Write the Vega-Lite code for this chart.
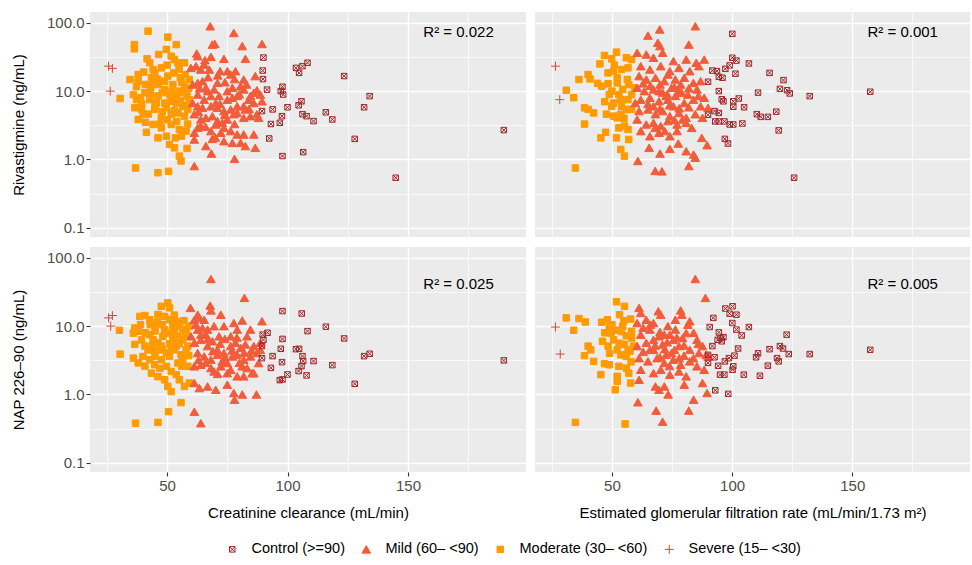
{
"$schema":"https://vega.github.io/schema/vega-lite/v6.json",
"padding":{"left":11,"top":12,"right":0,"bottom":0},
"datasets":{
"grp":[{"g":"C","grp":"Control (>=90)"},{"g":"Mi","grp":"Mild (60– <90)"},{"g":"Mo","grp":"Moderate (30– <60)"},{"g":"S","grp":"Severe (15– <30)"}],
"r2":[{"p":"a","x":171,"y":73,"t":"R² = 0.022"},{"p":"b","x":171,"y":73,"t":"R² = 0.001"},{"p":"c","x":171,"y":40.8,"t":"R² = 0.025"},{"p":"d","x":171,"y":40.8,"t":"R² = 0.005"}],
"pts":[
{"p":"a","g":"Mo","x":42.1,"y":75.5},{"p":"a","g":"Mo","x":36.4,"y":48},{"p":"a","g":"Mo","x":36.4,"y":41.6},{"p":"a","g":"Mo","x":50.3,"y":61.7},{"p":"a","g":"Mo","x":53.8,"y":48},{"p":"a","g":"Mo","x":41.7,"y":29.7},{"p":"a","g":"Mo","x":46.5,"y":34.4},{"p":"a","g":"Mo","x":49.7,"y":40.8},{"p":"a","g":"Mo","x":51.7,"y":32.5},{"p":"a","g":"Mo","x":54.5,"y":26},{"p":"a","g":"Mo","x":57.2,"y":26},{"p":"a","g":"Mo","x":38,"y":17.5},{"p":"a","g":"Mo","x":40.3,"y":19},{"p":"a","g":"Mo","x":43.5,"y":15.7},{"p":"a","g":"Mo","x":44.2,"y":20.7},{"p":"a","g":"Mo","x":47.6,"y":21.9},{"p":"a","g":"Mo","x":50.3,"y":16.6},{"p":"a","g":"Mo","x":52.8,"y":18.5},{"p":"a","g":"Mo","x":55.5,"y":15.7},{"p":"a","g":"Mo","x":38,"y":14},{"p":"a","g":"Mo","x":37.3,"y":11.6},{"p":"a","g":"Mo","x":36,"y":8.9},{"p":"a","g":"Mo","x":30.5,"y":7.8},{"p":"a","g":"Mo","x":40.8,"y":9.5},{"p":"a","g":"Mo","x":42.8,"y":7.5},{"p":"a","g":"Mo","x":46.2,"y":8.5},{"p":"a","g":"Mo","x":49,"y":10.6},{"p":"a","g":"Mo","x":51,"y":8.9},{"p":"a","g":"Mo","x":53.1,"y":8},{"p":"a","g":"Mo","x":55.1,"y":10},{"p":"a","g":"Mo","x":57.2,"y":11.8},{"p":"a","g":"Mo","x":58.3,"y":8.5},{"p":"a","g":"Mo","x":36.6,"y":5.7},{"p":"a","g":"Mo","x":39.4,"y":5.4},{"p":"a","g":"Mo","x":42.1,"y":4.6},{"p":"a","g":"Mo","x":44.9,"y":5.4},{"p":"a","g":"Mo","x":47.6,"y":4.07},{"p":"a","g":"Mo","x":49.7,"y":5.7},{"p":"a","g":"Mo","x":51.7,"y":4.6},{"p":"a","g":"Mo","x":54.5,"y":4.8},{"p":"a","g":"Mo","x":56.5,"y":6},{"p":"a","g":"Mo","x":58.6,"y":5.4},{"p":"a","g":"Mo","x":44.2,"y":3.25},{"p":"a","g":"Mo","x":47.6,"y":2.9},{"p":"a","g":"Mo","x":51.7,"y":3.25},{"p":"a","g":"Mo","x":55.1,"y":2.75},{"p":"a","g":"Mo","x":57.9,"y":2.6},{"p":"a","g":"Mo","x":41.4,"y":2.5},{"p":"a","g":"Mo","x":46.2,"y":2.07},{"p":"a","g":"Mo","x":49.7,"y":2.19},{"p":"a","g":"Mo","x":53.5,"y":2.07},{"p":"a","g":"Mo","x":51,"y":1.66},{"p":"a","g":"Mo","x":53.1,"y":1.48},{"p":"a","g":"Mo","x":55.1,"y":1.12},{"p":"a","g":"Mo","x":55.8,"y":0.95},{"p":"a","g":"Mo","x":58.3,"y":1.45},{"p":"a","g":"Mo","x":36.9,"y":0.75},{"p":"a","g":"Mo","x":46.2,"y":0.64},{"p":"a","g":"Mo","x":50.6,"y":0.67},{"p":"a","g":"Mo","x":46.2,"y":12.5},{"p":"a","g":"Mo","x":49,"y":14},{"p":"a","g":"Mo","x":52.4,"y":12.5},{"p":"a","g":"Mo","x":43.2,"y":11.2},{"p":"a","g":"Mo","x":53.8,"y":6.7},{"p":"a","g":"Mo","x":51.7,"y":7.1},{"p":"a","g":"Mo","x":49,"y":6.7},{"p":"a","g":"Mo","x":57.2,"y":4.3},{"p":"a","g":"Mo","x":45.5,"y":6.7},{"p":"a","g":"Mo","x":37.3,"y":7.5},{"p":"a","g":"Mo","x":59.2,"y":14.8},{"p":"a","g":"Mo","x":59.2,"y":7.5},{"p":"a","g":"Mo","x":42.8,"y":26},{"p":"a","g":"Mo","x":44.9,"y":18.5},{"p":"a","g":"Mo","x":34.6,"y":14.8},{"p":"a","g":"Mo","x":38,"y":3.85},{"p":"a","g":"Mo","x":40.1,"y":4.6},{"p":"a","g":"Mo","x":48,"y":9.5},{"p":"a","g":"Mo","x":44,"y":13},{"p":"a","g":"Mo","x":56,"y":13.5},{"p":"a","g":"Mo","x":54,"y":9},{"p":"a","g":"Mo","x":50,"y":3.8},{"p":"a","g":"Mo","x":47,"y":3.3},{"p":"a","g":"Mo","x":53,"y":5.2},{"p":"a","g":"Mo","x":39,"y":8},{"p":"a","g":"Mo","x":41,"y":12.5},{"p":"a","g":"Mo","x":56,"y":2.2},{"p":"a","g":"Mo","x":58.5,"y":3.3},{"p":"a","g":"Mo","x":57.5,"y":17.5},{"p":"a","g":"Mo","x":55,"y":21},{"p":"a","g":"Mo","x":45,"y":6},{"p":"a","g":"Mo","x":48,"y":5},{"p":"a","g":"Mo","x":52,"y":9.8},{"p":"a","g":"Mo","x":55.5,"y":7.2},{"p":"a","g":"Mo","x":58,"y":6.2},{"p":"a","g":"Mo","x":43,"y":9},{"p":"a","g":"Mo","x":39.5,"y":6.5},{"p":"a","g":"Mo","x":46,"y":15},{"p":"a","g":"Mo","x":50,"y":24},{"p":"a","g":"Mo","x":53,"y":29},{"p":"a","g":"Mo","x":57,"y":9.5},{"p":"a","g":"Mo","x":41,"y":3.5},{"p":"a","g":"Mo","x":54,"y":3.6},{"p":"a","g":"Mo","x":59,"y":11},
{"p":"a","g":"Mi","x":67.9,"y":89},{"p":"a","g":"Mi","x":77.7,"y":71},{"p":"a","g":"Mi","x":68.8,"y":48},{"p":"a","g":"Mi","x":69.8,"y":49},{"p":"a","g":"Mi","x":89.4,"y":49},{"p":"a","g":"Mi","x":81.2,"y":45.6},{"p":"a","g":"Mi","x":82.5,"y":29.7},{"p":"a","g":"Mi","x":62.3,"y":35.6},{"p":"a","g":"Mi","x":62.7,"y":32.5},{"p":"a","g":"Mi","x":65.7,"y":28.4},{"p":"a","g":"Mi","x":68.2,"y":31.8},{"p":"a","g":"Mi","x":73.6,"y":29.7},{"p":"a","g":"Mi","x":59.9,"y":21.9},{"p":"a","g":"Mi","x":62,"y":23.2},{"p":"a","g":"Mi","x":64,"y":20.7},{"p":"a","g":"Mi","x":65.4,"y":24.5},{"p":"a","g":"Mi","x":67.5,"y":20.7},{"p":"a","g":"Mi","x":72,"y":19.6},{"p":"a","g":"Mi","x":75,"y":19.6},{"p":"a","g":"Mi","x":78.4,"y":19.6},{"p":"a","g":"Mi","x":76.4,"y":17.5},{"p":"a","g":"Mi","x":86.6,"y":16.6},{"p":"a","g":"Mi","x":81.8,"y":14.8},{"p":"a","g":"Mi","x":60.6,"y":12.5},{"p":"a","g":"Mi","x":62.7,"y":13.2},{"p":"a","g":"Mi","x":64.7,"y":14},{"p":"a","g":"Mi","x":66.1,"y":11.2},{"p":"a","g":"Mi","x":66.8,"y":10},{"p":"a","g":"Mi","x":69.5,"y":10.6},{"p":"a","g":"Mi","x":71.6,"y":8.5},{"p":"a","g":"Mi","x":75,"y":10},{"p":"a","g":"Mi","x":77.1,"y":11.2},{"p":"a","g":"Mi","x":79.1,"y":8.5},{"p":"a","g":"Mi","x":81.8,"y":10.6},{"p":"a","g":"Mi","x":86,"y":9.5},{"p":"a","g":"Mi","x":87.3,"y":10.3},{"p":"a","g":"Mi","x":88.7,"y":8.9},{"p":"a","g":"Mi","x":62.7,"y":8.9},{"p":"a","g":"Mi","x":65.4,"y":7.5},{"p":"a","g":"Mi","x":68.2,"y":8.5},{"p":"a","g":"Mi","x":70.2,"y":6.7},{"p":"a","g":"Mi","x":60.6,"y":6.7},{"p":"a","g":"Mi","x":62.7,"y":6},{"p":"a","g":"Mi","x":64.7,"y":5.7},{"p":"a","g":"Mi","x":68.2,"y":6},{"p":"a","g":"Mi","x":70.9,"y":5.7},{"p":"a","g":"Mi","x":73.6,"y":5.1},{"p":"a","g":"Mi","x":76.4,"y":5.4},{"p":"a","g":"Mi","x":77.7,"y":4.6},{"p":"a","g":"Mi","x":79.1,"y":6},{"p":"a","g":"Mi","x":81.8,"y":6},{"p":"a","g":"Mi","x":83.9,"y":7.5},{"p":"a","g":"Mi","x":86,"y":6.7},{"p":"a","g":"Mi","x":89.4,"y":7.1},{"p":"a","g":"Mi","x":61.3,"y":4.6},{"p":"a","g":"Mi","x":64,"y":3.85},{"p":"a","g":"Mi","x":66.1,"y":4.07},{"p":"a","g":"Mi","x":68.8,"y":4.3},{"p":"a","g":"Mi","x":70.9,"y":3.64},{"p":"a","g":"Mi","x":72.9,"y":3.44},{"p":"a","g":"Mi","x":75,"y":3.85},{"p":"a","g":"Mi","x":79.1,"y":4.8},{"p":"a","g":"Mi","x":81.8,"y":4.07},{"p":"a","g":"Mi","x":84.6,"y":4.3},{"p":"a","g":"Mi","x":87.3,"y":4.6},{"p":"a","g":"Mi","x":88,"y":4.07},{"p":"a","g":"Mi","x":61.3,"y":2.46},{"p":"a","g":"Mi","x":62.7,"y":2.9},{"p":"a","g":"Mi","x":68.2,"y":2.6},{"p":"a","g":"Mi","x":70.2,"y":3.25},{"p":"a","g":"Mi","x":72.3,"y":2.46},{"p":"a","g":"Mi","x":73.6,"y":2.9},{"p":"a","g":"Mi","x":76.4,"y":2.6},{"p":"a","g":"Mi","x":79.1,"y":2.32},{"p":"a","g":"Mi","x":61.3,"y":1.96},{"p":"a","g":"Mi","x":68.8,"y":2},{"p":"a","g":"Mi","x":73.6,"y":1.85},{"p":"a","g":"Mi","x":77.1,"y":1.75},{"p":"a","g":"Mi","x":80.5,"y":1.75},{"p":"a","g":"Mi","x":82.5,"y":1.57},{"p":"a","g":"Mi","x":86.6,"y":1.48},{"p":"a","g":"Mi","x":81.8,"y":2.32},{"p":"a","g":"Mi","x":86,"y":2.32},{"p":"a","g":"Mi","x":68.4,"y":1.22},{"p":"a","g":"Mi","x":78,"y":1.02},{"p":"a","g":"Mi","x":61.3,"y":0.8},{"p":"a","g":"Mi","x":64,"y":3.1},{"p":"a","g":"Mi","x":84.6,"y":8.5},{"p":"a","g":"Mi","x":80.5,"y":11.8},{"p":"a","g":"Mi","x":70.9,"y":13.2},{"p":"a","g":"Mi","x":77.1,"y":8},{"p":"a","g":"Mi","x":82.5,"y":5.4},{"p":"a","g":"Mi","x":66.1,"y":1.57},{"p":"a","g":"Mi","x":63.5,"y":11},{"p":"a","g":"Mi","x":67,"y":16},{"p":"a","g":"Mi","x":71,"y":17},{"p":"a","g":"Mi","x":74,"y":13.5},{"p":"a","g":"Mi","x":78,"y":15},{"p":"a","g":"Mi","x":83,"y":12.5},{"p":"a","g":"Mi","x":72,"y":6.5},{"p":"a","g":"Mi","x":75,"y":7.5},{"p":"a","g":"Mi","x":80,"y":9},{"p":"a","g":"Mi","x":84,"y":5.5},{"p":"a","g":"Mi","x":66,"y":3},{"p":"a","g":"Mi","x":70,"y":2.1},{"p":"a","g":"Mi","x":74,"y":4.5},{"p":"a","g":"Mi","x":78,"y":3.3},{"p":"a","g":"Mi","x":63,"y":5},
{"p":"a","g":"C","x":90,"y":31},{"p":"a","g":"C","x":89.7,"y":20},{"p":"a","g":"C","x":89.8,"y":15},{"p":"a","g":"C","x":91.5,"y":10.5},{"p":"a","g":"C","x":97.2,"y":10},{"p":"a","g":"C","x":97.9,"y":11.6},{"p":"a","g":"C","x":98.2,"y":8.9},{"p":"a","g":"C","x":89.4,"y":5.1},{"p":"a","g":"C","x":93.8,"y":5.4},{"p":"a","g":"C","x":93.1,"y":3.3},{"p":"a","g":"C","x":92.4,"y":2.03},{"p":"a","g":"C","x":97.7,"y":4.3},{"p":"a","g":"C","x":96.8,"y":3.44},{"p":"a","g":"C","x":100,"y":5.8},{"p":"a","g":"C","x":97.9,"y":1.12},{"p":"a","g":"C","x":103.5,"y":21.9},{"p":"a","g":"C","x":104.8,"y":18.5},{"p":"a","g":"C","x":106.2,"y":23.2},{"p":"a","g":"C","x":108.3,"y":26},{"p":"a","g":"C","x":123.5,"y":16.6},{"p":"a","g":"C","x":104.6,"y":6.2},{"p":"a","g":"C","x":105.8,"y":7.1},{"p":"a","g":"C","x":106.2,"y":4.6},{"p":"a","g":"C","x":107.9,"y":4.3},{"p":"a","g":"C","x":110.8,"y":3.64},{"p":"a","g":"C","x":115.9,"y":4.9},{"p":"a","g":"C","x":118.6,"y":3.85},{"p":"a","g":"C","x":106.5,"y":1.28},{"p":"a","g":"C","x":134.1,"y":8.45},{"p":"a","g":"C","x":131.8,"y":5.8},{"p":"a","g":"C","x":127.9,"y":2},{"p":"a","g":"C","x":144.9,"y":0.54},{"p":"a","g":"C","x":189.8,"y":2.69},
{"p":"a","g":"S","x":25.7,"y":23.2},{"p":"a","g":"S","x":27.3,"y":21.5},{"p":"a","g":"S","x":26.4,"y":10},
{"p":"b","g":"Mo","x":46.9,"y":33.3},{"p":"b","g":"Mo","x":51.9,"y":37.2},{"p":"b","g":"Mo","x":49.9,"y":29.7},{"p":"b","g":"Mo","x":56,"y":30.8},{"p":"b","g":"Mo","x":58.2,"y":29},{"p":"b","g":"Mo","x":56.7,"y":21.9},{"p":"b","g":"Mo","x":54,"y":20.7},{"p":"b","g":"Mo","x":50.7,"y":19.6},{"p":"b","g":"Mo","x":48.4,"y":18.5},{"p":"b","g":"Mo","x":52.2,"y":15.7},{"p":"b","g":"Mo","x":56.4,"y":14.8},{"p":"b","g":"Mo","x":59.4,"y":11.2},{"p":"b","g":"Mo","x":58.2,"y":8.9},{"p":"b","g":"Mo","x":56.7,"y":7.5},{"p":"b","g":"Mo","x":53.7,"y":7.5},{"p":"b","g":"Mo","x":50.7,"y":6.7},{"p":"b","g":"Mo","x":49.9,"y":6},{"p":"b","g":"Mo","x":47.7,"y":4.6},{"p":"b","g":"Mo","x":50.7,"y":4.3},{"p":"b","g":"Mo","x":53.7,"y":4.6},{"p":"b","g":"Mo","x":52.2,"y":4.07},{"p":"b","g":"Mo","x":56,"y":5.4},{"p":"b","g":"Mo","x":58.2,"y":5.4},{"p":"b","g":"Mo","x":38.6,"y":5.7},{"p":"b","g":"Mo","x":40.1,"y":5.4},{"p":"b","g":"Mo","x":42.4,"y":4.8},{"p":"b","g":"Mo","x":38.6,"y":3.3},{"p":"b","g":"Mo","x":45.4,"y":2.07},{"p":"b","g":"Mo","x":47.4,"y":2.5},{"p":"b","g":"Mo","x":51.9,"y":2.07},{"p":"b","g":"Mo","x":57,"y":1.96},{"p":"b","g":"Mo","x":53.7,"y":1.4},{"p":"b","g":"Mo","x":55.2,"y":1.12},{"p":"b","g":"Mo","x":52.9,"y":2.9},{"p":"b","g":"Mo","x":55.2,"y":3.08},{"p":"b","g":"Mo","x":56.7,"y":2.75},{"p":"b","g":"Mo","x":45.7,"y":11.8},{"p":"b","g":"Mo","x":48.4,"y":12.8},{"p":"b","g":"Mo","x":48.9,"y":8.9},{"p":"b","g":"Mo","x":52.2,"y":13.2},{"p":"b","g":"Mo","x":52.9,"y":8.9},{"p":"b","g":"Mo","x":54.5,"y":10.6},{"p":"b","g":"Mo","x":36.3,"y":14.8},{"p":"b","g":"Mo","x":40.1,"y":17.5},{"p":"b","g":"Mo","x":40.9,"y":15.1},{"p":"b","g":"Mo","x":31,"y":10.3},{"p":"b","g":"Mo","x":34.1,"y":8},{"p":"b","g":"Mo","x":34.8,"y":0.75},{"p":"b","g":"Mo","x":44,"y":13},{"p":"b","g":"Mo","x":50,"y":10},{"p":"b","g":"Mo","x":57,"y":12.5},{"p":"b","g":"Mo","x":54,"y":6},{"p":"b","g":"Mo","x":47,"y":7},{"p":"b","g":"Mo","x":55,"y":4},{"p":"b","g":"Mo","x":51,"y":24},{"p":"b","g":"Mo","x":45,"y":25},
{"p":"b","g":"Mi","x":60.5,"y":36.4},{"p":"b","g":"Mi","x":64.3,"y":34.4},{"p":"b","g":"Mi","x":67.3,"y":30.8},{"p":"b","g":"Mi","x":71.1,"y":36.4},{"p":"b","g":"Mi","x":75.6,"y":27.5},{"p":"b","g":"Mi","x":80.9,"y":29},{"p":"b","g":"Mi","x":88.4,"y":29},{"p":"b","g":"Mi","x":85.1,"y":26},{"p":"b","g":"Mi","x":84.7,"y":89},{"p":"b","g":"Mi","x":69.9,"y":80},{"p":"b","g":"Mi","x":65,"y":65},{"p":"b","g":"Mi","x":69.1,"y":51},{"p":"b","g":"Mi","x":70,"y":45.6},{"p":"b","g":"Mi","x":82,"y":48},{"p":"b","g":"Mi","x":62,"y":23.2},{"p":"b","g":"Mi","x":65.8,"y":20.7},{"p":"b","g":"Mi","x":70.3,"y":23.2},{"p":"b","g":"Mi","x":74.1,"y":19.6},{"p":"b","g":"Mi","x":77.9,"y":21.9},{"p":"b","g":"Mi","x":82.4,"y":19.6},{"p":"b","g":"Mi","x":86.2,"y":23.2},{"p":"b","g":"Mi","x":61.3,"y":16.6},{"p":"b","g":"Mi","x":64.3,"y":14.8},{"p":"b","g":"Mi","x":68.1,"y":15.7},{"p":"b","g":"Mi","x":71.8,"y":14},{"p":"b","g":"Mi","x":76.4,"y":14.8},{"p":"b","g":"Mi","x":80.1,"y":15.7},{"p":"b","g":"Mi","x":83.9,"y":13.2},{"p":"b","g":"Mi","x":86.9,"y":14},{"p":"b","g":"Mi","x":60.5,"y":11.2},{"p":"b","g":"Mi","x":63.5,"y":10},{"p":"b","g":"Mi","x":67.3,"y":10.6},{"p":"b","g":"Mi","x":71.1,"y":9.5},{"p":"b","g":"Mi","x":74.8,"y":11.2},{"p":"b","g":"Mi","x":77.9,"y":10},{"p":"b","g":"Mi","x":81.6,"y":8.9},{"p":"b","g":"Mi","x":85.4,"y":10.6},{"p":"b","g":"Mi","x":88.4,"y":8},{"p":"b","g":"Mi","x":62,"y":7.5},{"p":"b","g":"Mi","x":65.8,"y":8},{"p":"b","g":"Mi","x":69.6,"y":7.1},{"p":"b","g":"Mi","x":73.3,"y":7.5},{"p":"b","g":"Mi","x":76.4,"y":8.5},{"p":"b","g":"Mi","x":80.1,"y":6.7},{"p":"b","g":"Mi","x":83.9,"y":7.5},{"p":"b","g":"Mi","x":86.9,"y":6},{"p":"b","g":"Mi","x":90,"y":5.7},{"p":"b","g":"Mi","x":61.3,"y":5.1},{"p":"b","g":"Mi","x":65,"y":5.4},{"p":"b","g":"Mi","x":68.1,"y":4.6},{"p":"b","g":"Mi","x":71.1,"y":5.1},{"p":"b","g":"Mi","x":74.1,"y":4.3},{"p":"b","g":"Mi","x":77.9,"y":4.8},{"p":"b","g":"Mi","x":80.9,"y":4.07},{"p":"b","g":"Mi","x":84.7,"y":4.6},{"p":"b","g":"Mi","x":60.5,"y":3.85},{"p":"b","g":"Mi","x":64.3,"y":3.25},{"p":"b","g":"Mi","x":67.3,"y":3.44},{"p":"b","g":"Mi","x":70.3,"y":3.08},{"p":"b","g":"Mi","x":73.3,"y":3.64},{"p":"b","g":"Mi","x":77.1,"y":3.25},{"p":"b","g":"Mi","x":80.9,"y":3.44},{"p":"b","g":"Mi","x":83.2,"y":2.9},{"p":"b","g":"Mi","x":62,"y":2.6},{"p":"b","g":"Mi","x":65.8,"y":2.19},{"p":"b","g":"Mi","x":69.6,"y":2.46},{"p":"b","g":"Mi","x":74.1,"y":2.19},{"p":"b","g":"Mi","x":77.1,"y":2.6},{"p":"b","g":"Mi","x":87.4,"y":2.07},{"p":"b","g":"Mi","x":89.6,"y":1.62},{"p":"b","g":"Mi","x":65.5,"y":1.48},{"p":"b","g":"Mi","x":70,"y":1.22},{"p":"b","g":"Mi","x":74.1,"y":1.43},{"p":"b","g":"Mi","x":77.6,"y":1.71},{"p":"b","g":"Mi","x":80.9,"y":1.32},{"p":"b","g":"Mi","x":84,"y":1.18},{"p":"b","g":"Mi","x":84.7,"y":1.06},{"p":"b","g":"Mi","x":60.8,"y":0.95},{"p":"b","g":"Mi","x":68,"y":0.68},{"p":"b","g":"Mi","x":70.8,"y":0.67},{"p":"b","g":"Mi","x":82,"y":0.8},{"p":"b","g":"Mi","x":72.6,"y":8.5},{"p":"b","g":"Mi","x":75.6,"y":6},{"p":"b","g":"Mi","x":67.3,"y":6},{"p":"b","g":"Mi","x":78.6,"y":12.5},{"p":"b","g":"Mi","x":73.3,"y":17.5},{"p":"b","g":"Mi","x":69.6,"y":10},{"p":"b","g":"Mi","x":79.4,"y":3.85},{"p":"b","g":"Mi","x":87.7,"y":4.07},{"p":"b","g":"Mi","x":59.7,"y":6.7},{"p":"b","g":"Mi","x":63,"y":13},{"p":"b","g":"Mi","x":66,"y":12},{"p":"b","g":"Mi","x":70,"y":12.5},{"p":"b","g":"Mi","x":73,"y":9},{"p":"b","g":"Mi","x":76,"y":11.5},{"p":"b","g":"Mi","x":79,"y":9.5},{"p":"b","g":"Mi","x":82,"y":11},{"p":"b","g":"Mi","x":65,"y":6.5},{"p":"b","g":"Mi","x":70,"y":5.5},{"p":"b","g":"Mi","x":74,"y":6.2},{"p":"b","g":"Mi","x":78,"y":5.6},{"p":"b","g":"Mi","x":82,"y":5.8},{"p":"b","g":"Mi","x":86,"y":8.5},{"p":"b","g":"Mi","x":68,"y":2.9},{"p":"b","g":"Mi","x":72,"y":2.6},{"p":"b","g":"Mi","x":76,"y":3.8},
{"p":"b","g":"C","x":100.1,"y":69},{"p":"b","g":"C","x":91.8,"y":20},{"p":"b","g":"C","x":93.7,"y":19.6},{"p":"b","g":"C","x":94.5,"y":16.2},{"p":"b","g":"C","x":96,"y":15.7},{"p":"b","g":"C","x":97.2,"y":21.2},{"p":"b","g":"C","x":99,"y":23.8},{"p":"b","g":"C","x":101.4,"y":18},{"p":"b","g":"C","x":100.1,"y":30.8},{"p":"b","g":"C","x":101.8,"y":28},{"p":"b","g":"C","x":107,"y":25.4},{"p":"b","g":"C","x":115.6,"y":18.5},{"p":"b","g":"C","x":90,"y":13.7},{"p":"b","g":"C","x":94.5,"y":10},{"p":"b","g":"C","x":95.7,"y":7.6},{"p":"b","g":"C","x":96.4,"y":7.1},{"p":"b","g":"C","x":100.5,"y":7.1},{"p":"b","g":"C","x":102.8,"y":7.8},{"p":"b","g":"C","x":100.5,"y":5.9},{"p":"b","g":"C","x":105,"y":5.8},{"p":"b","g":"C","x":90,"y":4.5},{"p":"b","g":"C","x":92.7,"y":5.1},{"p":"b","g":"C","x":94.5,"y":4.8},{"p":"b","g":"C","x":93,"y":3.6},{"p":"b","g":"C","x":94.5,"y":3.6},{"p":"b","g":"C","x":96.8,"y":3.6},{"p":"b","g":"C","x":99,"y":3.25},{"p":"b","g":"C","x":100.5,"y":3.25},{"p":"b","g":"C","x":104.3,"y":3.36},{"p":"b","g":"C","x":110.3,"y":4.6},{"p":"b","g":"C","x":111.9,"y":4.2},{"p":"b","g":"C","x":114.9,"y":4.2},{"p":"b","g":"C","x":118.4,"y":5},{"p":"b","g":"C","x":110.8,"y":9.5},{"p":"b","g":"C","x":119.9,"y":10.8},{"p":"b","g":"C","x":121.4,"y":14.5},{"p":"b","g":"C","x":122.9,"y":10.3},{"p":"b","g":"C","x":124,"y":9.25},{"p":"b","g":"C","x":132.3,"y":8.45},{"p":"b","g":"C","x":119.4,"y":2.66},{"p":"b","g":"C","x":97,"y":2},{"p":"b","g":"C","x":98.3,"y":1.71},{"p":"b","g":"C","x":125.8,"y":0.54},{"p":"b","g":"C","x":157.5,"y":9.8},
{"p":"b","g":"S","x":26.5,"y":23.2},{"p":"b","g":"S","x":28.3,"y":7.5},
{"p":"c","g":"Mo","x":50.3,"y":21.9},{"p":"c","g":"Mo","x":47.6,"y":19.5},{"p":"c","g":"Mo","x":51,"y":18.5},{"p":"c","g":"Mo","x":30.2,"y":8.7},{"p":"c","g":"Mo","x":30.5,"y":3.9},{"p":"c","g":"Mo","x":36.9,"y":0.38},{"p":"c","g":"Mo","x":46.2,"y":0.39},{"p":"c","g":"Mo","x":50.6,"y":0.56},{"p":"c","g":"Mo","x":55.8,"y":0.76},{"p":"c","g":"Mo","x":38.7,"y":13.9},{"p":"c","g":"Mo","x":40.8,"y":14.3},{"p":"c","g":"Mo","x":36.6,"y":9.4},{"p":"c","g":"Mo","x":36,"y":7.9},{"p":"c","g":"Mo","x":38,"y":8.4},{"p":"c","g":"Mo","x":36.6,"y":5.4},{"p":"c","g":"Mo","x":36,"y":3.4},{"p":"c","g":"Mo","x":38,"y":2.9},{"p":"c","g":"Mo","x":40.8,"y":2.6},{"p":"c","g":"Mo","x":42.8,"y":12.4},{"p":"c","g":"Mo","x":44.9,"y":10},{"p":"c","g":"Mo","x":46.2,"y":14.8},{"p":"c","g":"Mo","x":49,"y":13.9},{"p":"c","g":"Mo","x":51,"y":12.4},{"p":"c","g":"Mo","x":53.8,"y":11.7},{"p":"c","g":"Mo","x":55.1,"y":10},{"p":"c","g":"Mo","x":42.8,"y":7.5},{"p":"c","g":"Mo","x":44.2,"y":6.3},{"p":"c","g":"Mo","x":46.2,"y":5.7},{"p":"c","g":"Mo","x":48.3,"y":7.1},{"p":"c","g":"Mo","x":50.3,"y":7.9},{"p":"c","g":"Mo","x":52.4,"y":6.3},{"p":"c","g":"Mo","x":54.5,"y":7.1},{"p":"c","g":"Mo","x":56.5,"y":6.3},{"p":"c","g":"Mo","x":57.9,"y":7.5},{"p":"c","g":"Mo","x":42.1,"y":4.5},{"p":"c","g":"Mo","x":44.9,"y":4.3},{"p":"c","g":"Mo","x":47.6,"y":5.1},{"p":"c","g":"Mo","x":49.7,"y":4.04},{"p":"c","g":"Mo","x":51.7,"y":4.5},{"p":"c","g":"Mo","x":53.8,"y":5.1},{"p":"c","g":"Mo","x":55.8,"y":3.8},{"p":"c","g":"Mo","x":57.9,"y":4.5},{"p":"c","g":"Mo","x":42.8,"y":3.23},{"p":"c","g":"Mo","x":44.9,"y":2.72},{"p":"c","g":"Mo","x":47.6,"y":3.23},{"p":"c","g":"Mo","x":49.7,"y":2.58},{"p":"c","g":"Mo","x":51.7,"y":2.17},{"p":"c","g":"Mo","x":54.5,"y":2.88},{"p":"c","g":"Mo","x":56.5,"y":3.23},{"p":"c","g":"Mo","x":58.6,"y":2.58},{"p":"c","g":"Mo","x":46.2,"y":1.82},{"p":"c","g":"Mo","x":49,"y":1.64},{"p":"c","g":"Mo","x":50.3,"y":1.31},{"p":"c","g":"Mo","x":51.7,"y":1.1},{"p":"c","g":"Mo","x":55.1,"y":1.64},{"p":"c","g":"Mo","x":57.2,"y":1.31},{"p":"c","g":"Mo","x":59.2,"y":1.47},{"p":"c","g":"Mo","x":39.4,"y":6.3},{"p":"c","g":"Mo","x":40.8,"y":5.1},{"p":"c","g":"Mo","x":52.4,"y":10},{"p":"c","g":"Mo","x":56.5,"y":8.4},{"p":"c","g":"Mo","x":59.2,"y":10},{"p":"c","g":"Mo","x":58.6,"y":5.1},{"p":"c","g":"Mo","x":43.5,"y":2.05},{"p":"c","g":"Mo","x":53.8,"y":1.95},{"p":"c","g":"Mo","x":45,"y":8.5},{"p":"c","g":"Mo","x":48,"y":10.5},{"p":"c","g":"Mo","x":53,"y":14.5},{"p":"c","g":"Mo","x":57,"y":12},{"p":"c","g":"Mo","x":39,"y":10.5},{"p":"c","g":"Mo","x":55,"y":5.5},{"p":"c","g":"Mo","x":47,"y":2.4},{"p":"c","g":"Mo","x":41,"y":8},{"p":"c","g":"Mo","x":43,"y":10.5},{"p":"c","g":"Mo","x":46,"y":11.5},{"p":"c","g":"Mo","x":49,"y":8.8},{"p":"c","g":"Mo","x":51,"y":5.5},{"p":"c","g":"Mo","x":53,"y":8},{"p":"c","g":"Mo","x":55,"y":11.5},{"p":"c","g":"Mo","x":58,"y":9},{"p":"c","g":"Mo","x":45,"y":3.6},{"p":"c","g":"Mo","x":48,"y":4.5},{"p":"c","g":"Mo","x":51,"y":3.6},{"p":"c","g":"Mo","x":53,"y":4.5},{"p":"c","g":"Mo","x":56,"y":2.6},{"p":"c","g":"Mo","x":59,"y":3.7},{"p":"c","g":"Mo","x":40,"y":3.6},{"p":"c","g":"Mo","x":44,"y":5.1},
{"p":"c","g":"Mi","x":68.2,"y":49},{"p":"c","g":"Mi","x":82.1,"y":25.9},{"p":"c","g":"Mi","x":59.7,"y":18.5},{"p":"c","g":"Mi","x":67.9,"y":20},{"p":"c","g":"Mi","x":68.2,"y":17},{"p":"c","g":"Mi","x":72.3,"y":14.7},{"p":"c","g":"Mi","x":62.7,"y":14.7},{"p":"c","g":"Mi","x":63.4,"y":13.3},{"p":"c","g":"Mi","x":61.3,"y":12.4},{"p":"c","g":"Mi","x":65.4,"y":12.4},{"p":"c","g":"Mi","x":77.7,"y":11.1},{"p":"c","g":"Mi","x":81.2,"y":12.1},{"p":"c","g":"Mi","x":89.4,"y":11.8},{"p":"c","g":"Mi","x":73.6,"y":10},{"p":"c","g":"Mi","x":62.7,"y":8.9},{"p":"c","g":"Mi","x":64.7,"y":9.4},{"p":"c","g":"Mi","x":66.8,"y":8.9},{"p":"c","g":"Mi","x":69.5,"y":10},{"p":"c","g":"Mi","x":59.9,"y":7.1},{"p":"c","g":"Mi","x":61.3,"y":5.7},{"p":"c","g":"Mi","x":64,"y":6.3},{"p":"c","g":"Mi","x":66.8,"y":5.1},{"p":"c","g":"Mi","x":68.8,"y":6},{"p":"c","g":"Mi","x":70.9,"y":4.5},{"p":"c","g":"Mi","x":73.6,"y":4.04},{"p":"c","g":"Mi","x":76.4,"y":5.1},{"p":"c","g":"Mi","x":78.4,"y":5.7},{"p":"c","g":"Mi","x":80.5,"y":4.8},{"p":"c","g":"Mi","x":82.5,"y":5.4},{"p":"c","g":"Mi","x":86,"y":5.1},{"p":"c","g":"Mi","x":88.7,"y":5.7},{"p":"c","g":"Mi","x":62.7,"y":4.04},{"p":"c","g":"Mi","x":65.4,"y":3.6},{"p":"c","g":"Mi","x":68.2,"y":3.23},{"p":"c","g":"Mi","x":70.9,"y":3.8},{"p":"c","g":"Mi","x":72.9,"y":3.05},{"p":"c","g":"Mi","x":75,"y":2.88},{"p":"c","g":"Mi","x":77.1,"y":3.6},{"p":"c","g":"Mi","x":79.1,"y":3.8},{"p":"c","g":"Mi","x":81.8,"y":3.23},{"p":"c","g":"Mi","x":84.6,"y":3.6},{"p":"c","g":"Mi","x":87.3,"y":4.04},{"p":"c","g":"Mi","x":88.7,"y":4.5},{"p":"c","g":"Mi","x":61.3,"y":2.58},{"p":"c","g":"Mi","x":64,"y":2.72},{"p":"c","g":"Mi","x":68.2,"y":2.43},{"p":"c","g":"Mi","x":69.5,"y":2.17},{"p":"c","g":"Mi","x":72.3,"y":2.58},{"p":"c","g":"Mi","x":75,"y":2.05},{"p":"c","g":"Mi","x":76.4,"y":2.3},{"p":"c","g":"Mi","x":79.1,"y":1.84},{"p":"c","g":"Mi","x":81.2,"y":2.58},{"p":"c","g":"Mi","x":83.2,"y":2.43},{"p":"c","g":"Mi","x":86,"y":2.05},{"p":"c","g":"Mi","x":88,"y":2.88},{"p":"c","g":"Mi","x":61.3,"y":1.47},{"p":"c","g":"Mi","x":63.4,"y":1.24},{"p":"c","g":"Mi","x":66.8,"y":1.31},{"p":"c","g":"Mi","x":70.2,"y":1.17},{"p":"c","g":"Mi","x":75,"y":1.39},{"p":"c","g":"Mi","x":77.7,"y":1.05},{"p":"c","g":"Mi","x":81.2,"y":1},{"p":"c","g":"Mi","x":81.8,"y":1.84},{"p":"c","g":"Mi","x":85.3,"y":2.05},{"p":"c","g":"Mi","x":87.1,"y":1},{"p":"c","g":"Mi","x":78,"y":0.84},{"p":"c","g":"Mi","x":61.3,"y":0.56},{"p":"c","g":"Mi","x":64,"y":0.38},{"p":"c","g":"Mi","x":71.6,"y":7.1},{"p":"c","g":"Mi","x":76.4,"y":7.1},{"p":"c","g":"Mi","x":83.2,"y":7.1},{"p":"c","g":"Mi","x":66.1,"y":7.5},{"p":"c","g":"Mi","x":79.1,"y":8.9},{"p":"c","g":"Mi","x":84.6,"y":8.9},{"p":"c","g":"Mi","x":62,"y":10.5},{"p":"c","g":"Mi","x":64,"y":7.5},{"p":"c","g":"Mi","x":67,"y":6.5},{"p":"c","g":"Mi","x":69,"y":4.3},{"p":"c","g":"Mi","x":72,"y":5.5},{"p":"c","g":"Mi","x":74,"y":6.5},{"p":"c","g":"Mi","x":77,"y":4.4},{"p":"c","g":"Mi","x":79,"y":6.8},{"p":"c","g":"Mi","x":82,"y":4.1},{"p":"c","g":"Mi","x":85,"y":4.4},{"p":"c","g":"Mi","x":66,"y":2.9},{"p":"c","g":"Mi","x":71,"y":2},{"p":"c","g":"Mi","x":74,"y":3.5},{"p":"c","g":"Mi","x":80,"y":2.9},{"p":"c","g":"Mi","x":63,"y":3.2},
{"p":"c","g":"C","x":89.7,"y":7.5},{"p":"c","g":"C","x":90,"y":6.3},{"p":"c","g":"C","x":89.4,"y":5.1},{"p":"c","g":"C","x":89.4,"y":3.4},{"p":"c","g":"C","x":91.7,"y":8},{"p":"c","g":"C","x":93.1,"y":2.45},{"p":"c","g":"C","x":93.8,"y":3.64},{"p":"c","g":"C","x":97.9,"y":16.6},{"p":"c","g":"C","x":97.9,"y":6.5},{"p":"c","g":"C","x":97.2,"y":4.66},{"p":"c","g":"C","x":97.7,"y":2.97},{"p":"c","g":"C","x":96.8,"y":1.62},{"p":"c","g":"C","x":97.9,"y":1.66},{"p":"c","g":"C","x":100,"y":1.96},{"p":"c","g":"C","x":105.9,"y":15.3},{"p":"c","g":"C","x":108.3,"y":8.45},{"p":"c","g":"C","x":115.9,"y":9.8},{"p":"c","g":"C","x":123.5,"y":6.6},{"p":"c","g":"C","x":103.5,"y":4.6},{"p":"c","g":"C","x":104.8,"y":4.66},{"p":"c","g":"C","x":106.2,"y":3.64},{"p":"c","g":"C","x":106.5,"y":3.08},{"p":"c","g":"C","x":105.8,"y":2.6},{"p":"c","g":"C","x":104.6,"y":2.2},{"p":"c","g":"C","x":107.9,"y":1.9},{"p":"c","g":"C","x":110.8,"y":3.08},{"p":"c","g":"C","x":118.6,"y":2.69},{"p":"c","g":"C","x":127.9,"y":1.43},{"p":"c","g":"C","x":131.8,"y":3.64},{"p":"c","g":"C","x":134.1,"y":3.94},{"p":"c","g":"C","x":189.8,"y":3.15},
{"p":"c","g":"S","x":25.7,"y":13.2},{"p":"c","g":"S","x":27.3,"y":14.3},{"p":"c","g":"S","x":26.6,"y":10},
{"p":"d","g":"Mo","x":51.9,"y":22.7},{"p":"d","g":"Mo","x":55.2,"y":19.5},{"p":"d","g":"Mo","x":53.2,"y":14.7},{"p":"d","g":"Mo","x":57.8,"y":12.7},{"p":"d","g":"Mo","x":31,"y":13.2},{"p":"d","g":"Mo","x":36.3,"y":12.9},{"p":"d","g":"Mo","x":38.9,"y":11.5},{"p":"d","g":"Mo","x":34.1,"y":8.7},{"p":"d","g":"Mo","x":45.7,"y":11.4},{"p":"d","g":"Mo","x":48.1,"y":12.4},{"p":"d","g":"Mo","x":48.9,"y":9.7},{"p":"d","g":"Mo","x":49.6,"y":7.9},{"p":"d","g":"Mo","x":51.9,"y":8.7},{"p":"d","g":"Mo","x":54,"y":8.3},{"p":"d","g":"Mo","x":58.2,"y":8.4},{"p":"d","g":"Mo","x":54.5,"y":10},{"p":"d","g":"Mo","x":46.1,"y":6},{"p":"d","g":"Mo","x":48.4,"y":5.1},{"p":"d","g":"Mo","x":50.7,"y":6.3},{"p":"d","g":"Mo","x":52.2,"y":4.5},{"p":"d","g":"Mo","x":55.2,"y":5.4},{"p":"d","g":"Mo","x":56.7,"y":4.5},{"p":"d","g":"Mo","x":59,"y":5.1},{"p":"d","g":"Mo","x":53.7,"y":3.8},{"p":"d","g":"Mo","x":56,"y":3.6},{"p":"d","g":"Mo","x":57.5,"y":4.3},{"p":"d","g":"Mo","x":40.1,"y":5.1},{"p":"d","g":"Mo","x":41.2,"y":4.5},{"p":"d","g":"Mo","x":38.6,"y":3.7},{"p":"d","g":"Mo","x":42.4,"y":3.05},{"p":"d","g":"Mo","x":46.9,"y":2.82},{"p":"d","g":"Mo","x":48.9,"y":2.72},{"p":"d","g":"Mo","x":52.9,"y":2.58},{"p":"d","g":"Mo","x":56,"y":2.43},{"p":"d","g":"Mo","x":57,"y":2.05},{"p":"d","g":"Mo","x":45.4,"y":1.95},{"p":"d","g":"Mo","x":52.2,"y":1.84},{"p":"d","g":"Mo","x":52.2,"y":1.55},{"p":"d","g":"Mo","x":57.8,"y":1.47},{"p":"d","g":"Mo","x":51.4,"y":1.17},{"p":"d","g":"Mo","x":58.2,"y":6.7},{"p":"d","g":"Mo","x":34.8,"y":0.39},{"p":"d","g":"Mo","x":55.5,"y":0.37},{"p":"d","g":"Mo","x":50,"y":10.5},{"p":"d","g":"Mo","x":56,"y":7.2},{"p":"d","g":"Mo","x":53,"y":5.6},{"p":"d","g":"Mo","x":47,"y":8},{"p":"d","g":"Mo","x":55,"y":12},{"p":"d","g":"Mo","x":58,"y":3},{"p":"d","g":"Mo","x":49,"y":4},
{"p":"d","g":"Mi","x":84.7,"y":49},{"p":"d","g":"Mi","x":88.9,"y":25.9},{"p":"d","g":"Mi","x":61.3,"y":18.5},{"p":"d","g":"Mi","x":62,"y":15.6},{"p":"d","g":"Mi","x":69.3,"y":16.5},{"p":"d","g":"Mi","x":70.3,"y":14.7},{"p":"d","g":"Mi","x":78.6,"y":17},{"p":"d","g":"Mi","x":79.1,"y":14.7},{"p":"d","g":"Mi","x":82.4,"y":11.8},{"p":"d","g":"Mi","x":81.6,"y":10.5},{"p":"d","g":"Mi","x":64.3,"y":12.4},{"p":"d","g":"Mi","x":67.3,"y":11.1},{"p":"d","g":"Mi","x":73.3,"y":10},{"p":"d","g":"Mi","x":76.4,"y":8.9},{"p":"d","g":"Mi","x":65.8,"y":8.9},{"p":"d","g":"Mi","x":62,"y":7.5},{"p":"d","g":"Mi","x":69.6,"y":7.1},{"p":"d","g":"Mi","x":74.1,"y":7.5},{"p":"d","g":"Mi","x":79.4,"y":6.7},{"p":"d","g":"Mi","x":85.4,"y":6.3},{"p":"d","g":"Mi","x":87.7,"y":5.1},{"p":"d","g":"Mi","x":60.5,"y":5.1},{"p":"d","g":"Mi","x":64.3,"y":5.7},{"p":"d","g":"Mi","x":67.3,"y":4.5},{"p":"d","g":"Mi","x":71.1,"y":5.4},{"p":"d","g":"Mi","x":74.8,"y":4.04},{"p":"d","g":"Mi","x":77.9,"y":5.1},{"p":"d","g":"Mi","x":82.4,"y":4.5},{"p":"d","g":"Mi","x":86.2,"y":4.04},{"p":"d","g":"Mi","x":89.2,"y":3.8},{"p":"d","g":"Mi","x":61.3,"y":3.4},{"p":"d","g":"Mi","x":65,"y":3.05},{"p":"d","g":"Mi","x":68.8,"y":3.4},{"p":"d","g":"Mi","x":71.8,"y":2.88},{"p":"d","g":"Mi","x":75.6,"y":3.23},{"p":"d","g":"Mi","x":78.6,"y":2.72},{"p":"d","g":"Mi","x":82.4,"y":3.05},{"p":"d","g":"Mi","x":85.4,"y":2.58},{"p":"d","g":"Mi","x":88.4,"y":2.3},{"p":"d","g":"Mi","x":62,"y":2.3},{"p":"d","g":"Mi","x":67.3,"y":2.05},{"p":"d","g":"Mi","x":70.3,"y":2.3},{"p":"d","g":"Mi","x":74.1,"y":1.95},{"p":"d","g":"Mi","x":77.9,"y":2.17},{"p":"d","g":"Mi","x":80.9,"y":1.84},{"p":"d","g":"Mi","x":61.3,"y":1.64},{"p":"d","g":"Mi","x":68.1,"y":1.31},{"p":"d","g":"Mi","x":69.6,"y":1.17},{"p":"d","g":"Mi","x":71.8,"y":1.31},{"p":"d","g":"Mi","x":80.1,"y":1.39},{"p":"d","g":"Mi","x":87.7,"y":1.47},{"p":"d","g":"Mi","x":60.8,"y":0.77},{"p":"d","g":"Mi","x":68.4,"y":0.58},{"p":"d","g":"Mi","x":71.1,"y":0.4},{"p":"d","g":"Mi","x":82,"y":0.58},{"p":"d","g":"Mi","x":84,"y":0.84},{"p":"d","g":"Mi","x":89.6,"y":1.05},{"p":"d","g":"Mi","x":73.4,"y":1},{"p":"d","g":"Mi","x":71.8,"y":7.5},{"p":"d","g":"Mi","x":75.6,"y":6.3},{"p":"d","g":"Mi","x":80.9,"y":7.9},{"p":"d","g":"Mi","x":67.3,"y":6.3},{"p":"d","g":"Mi","x":83.9,"y":3.4},{"p":"d","g":"Mi","x":76.4,"y":12.4},{"p":"d","g":"Mi","x":72.6,"y":3.8},{"p":"d","g":"Mi","x":90,"y":3.6},{"p":"d","g":"Mi","x":60.5,"y":11.1},{"p":"d","g":"Mi","x":65.8,"y":4.5},{"p":"d","g":"Mi","x":63,"y":9.5},{"p":"d","g":"Mi","x":66,"y":10.5},{"p":"d","g":"Mi","x":70,"y":8.2},{"p":"d","g":"Mi","x":73,"y":5.8},{"p":"d","g":"Mi","x":77,"y":6.8},{"p":"d","g":"Mi","x":80,"y":5.2},{"p":"d","g":"Mi","x":84,"y":8},{"p":"d","g":"Mi","x":63,"y":4.2},{"p":"d","g":"Mi","x":68,"y":5.2},{"p":"d","g":"Mi","x":72,"y":4.6},{"p":"d","g":"Mi","x":76,"y":4.5},{"p":"d","g":"Mi","x":80,"y":3.7},{"p":"d","g":"Mi","x":86,"y":5.5},{"p":"d","g":"Mi","x":70,"y":3.5},{"p":"d","g":"Mi","x":74,"y":2.6},{"p":"d","g":"Mi","x":78,"y":3.4},
{"p":"d","g":"C","x":97.2,"y":18.1},{"p":"d","g":"C","x":100.2,"y":19.5},{"p":"d","g":"C","x":99,"y":15.2},{"p":"d","g":"C","x":101.8,"y":14.7},{"p":"d","g":"C","x":92.2,"y":13.2},{"p":"d","g":"C","x":90.7,"y":9.7},{"p":"d","g":"C","x":100.1,"y":11.1},{"p":"d","g":"C","x":101.8,"y":8.9},{"p":"d","g":"C","x":107,"y":9.7},{"p":"d","g":"C","x":104,"y":7.3},{"p":"d","g":"C","x":94.5,"y":8.1},{"p":"d","g":"C","x":96.4,"y":6.9},{"p":"d","g":"C","x":95.2,"y":6.7},{"p":"d","g":"C","x":94,"y":6.3},{"p":"d","g":"C","x":95.7,"y":6},{"p":"d","g":"C","x":122.7,"y":7.5},{"p":"d","g":"C","x":91.8,"y":5.1},{"p":"d","g":"C","x":92.7,"y":3.5},{"p":"d","g":"C","x":90,"y":3.8},{"p":"d","g":"C","x":90,"y":2.9},{"p":"d","g":"C","x":102.5,"y":4.7},{"p":"d","g":"C","x":101,"y":3.7},{"p":"d","g":"C","x":98.7,"y":3.4},{"p":"d","g":"C","x":97,"y":3.05},{"p":"d","g":"C","x":100.5,"y":2.58},{"p":"d","g":"C","x":100.2,"y":2.3},{"p":"d","g":"C","x":94.2,"y":2.63},{"p":"d","g":"C","x":96.8,"y":1.95},{"p":"d","g":"C","x":95,"y":1.95},{"p":"d","g":"C","x":93,"y":1.15},{"p":"d","g":"C","x":98.4,"y":1.02},{"p":"d","g":"C","x":104.9,"y":1.95},{"p":"d","g":"C","x":110.8,"y":4},{"p":"d","g":"C","x":110,"y":3.5},{"p":"d","g":"C","x":115.6,"y":4.6},{"p":"d","g":"C","x":118.7,"y":3.4},{"p":"d","g":"C","x":114.9,"y":2.64},{"p":"d","g":"C","x":111.6,"y":1.88},{"p":"d","g":"C","x":119.4,"y":3.05},{"p":"d","g":"C","x":119.9,"y":5.1},{"p":"d","g":"C","x":121.2,"y":4.7},{"p":"d","g":"C","x":123.6,"y":3.9},{"p":"d","g":"C","x":132.3,"y":3.9},{"p":"d","g":"C","x":157.5,"y":4.5},
{"p":"d","g":"S","x":26.5,"y":9.7},{"p":"d","g":"S","x":28.5,"y":3.9}
]},
"concat":[
{"width":436,"height":225,"layer":[
 {"data":{"name":"pts"},"transform":[{"filter":"datum.p==='a'"},{"lookup":"g","from":{"data":{"name":"grp"},"key":"g","fields":["grp"]}}],
  "mark":{"type":"point","opacity":1,"strokeWidth":1,"clip":true},
  "encoding":{
   "x":{"field":"x","type":"quantitative","scale":{"domain":[18,199],"nice":false,"zero":false},"axis":{"values":[50,100,150],"labels":false,"ticks":false,"title":null,"grid":true}},
   "y":{"field":"y","type":"quantitative","scale":{"type":"log","domain":[0.0733,143.9],"nice":false},"axis":{"values":[0.1,1,10,100],"format":".1f","title":"Rivastigmine (ng/mL)","titlePadding":20,"grid":true}},
   "shape":{"field":"grp","type":"nominal","scale":{"domain":["Control (>=90)","Mild (60– <90)","Moderate (30– <60)","Severe (15– <30)"],"range":["M-1,-1H1V1H-1Z M-1,-1L1,1 M1,-1L-1,1","triangle-up","square","M-1,0H1 M0,-1V1"]},"legend":{"title":null,"orient":"none","legendX":135,"legendY":530,"direction":"horizontal","columns":4,"columnPadding":14,"labelOffset":12}},
   "fill":{"field":"grp","type":"nominal","scale":{"domain":["Control (>=90)","Mild (60– <90)","Moderate (30– <60)","Severe (15– <30)"],"range":["transparent","#F25C3A","#FF9B00","transparent"]}},
   "stroke":{"field":"grp","type":"nominal","scale":{"domain":["Control (>=90)","Mild (60– <90)","Moderate (30– <60)","Severe (15– <30)"],"range":["#A0282A","#F25C3A","#FF9B00","#D8472B"]}},
   "size":{"field":"grp","type":"nominal","scale":{"type":"ordinal","domain":["Control (>=90)","Mild (60– <90)","Moderate (30– <60)","Severe (15– <30)"],"range":[30,75,42,80]}}
  }},
 {"data":{"name":"r2"},"transform":[{"filter":"datum.p==='a'"}],"mark":{"type":"text","font":"Liberation Sans","fontSize":15,"color":"#000000"},
  "encoding":{
   "x":{"field":"x","type":"quantitative","scale":{"domain":[18,199],"nice":false,"zero":false},"axis":{"values":[25,75,125,175],"orient":"top","labels":false,"ticks":false,"title":null,"grid":true,"gridWidth":0.7}},
   "y":{"field":"y","type":"quantitative","scale":{"type":"log","domain":[0.0733,143.9],"nice":false},"axis":{"values":[0.3162,3.162,31.62],"orient":"right","labels":false,"ticks":false,"title":null,"grid":true,"gridWidth":0.7}},
   "text":{"field":"t"}}}
 ],"resolve":{"axis":{"x":"independent","y":"independent"}}},
{"width":435,"height":225,"layer":[
 {"data":{"name":"pts"},"transform":[{"filter":"datum.p==='b'"},{"lookup":"g","from":{"data":{"name":"grp"},"key":"g","fields":["grp"]}}],
  "mark":{"type":"point","opacity":1,"strokeWidth":1,"clip":true},
  "encoding":{
   "x":{"field":"x","type":"quantitative","scale":{"domain":[18,199],"nice":false,"zero":false},"axis":{"values":[50,100,150],"labels":false,"ticks":false,"title":null,"grid":true}},
   "y":{"field":"y","type":"quantitative","scale":{"type":"log","domain":[0.0733,143.9],"nice":false},"axis":{"values":[0.1,1,10,100],"labels":false,"ticks":false,"title":null,"grid":true}},
   "shape":{"field":"grp","type":"nominal","scale":{"domain":["Control (>=90)","Mild (60– <90)","Moderate (30– <60)","Severe (15– <30)"],"range":["M-1,-1H1V1H-1Z M-1,-1L1,1 M1,-1L-1,1","triangle-up","square","M-1,0H1 M0,-1V1"]},"legend":{"title":null,"orient":"none","legendX":135,"legendY":530,"direction":"horizontal","columns":4,"columnPadding":14,"labelOffset":12}},
   "fill":{"field":"grp","type":"nominal","scale":{"domain":["Control (>=90)","Mild (60– <90)","Moderate (30– <60)","Severe (15– <30)"],"range":["transparent","#F25C3A","#FF9B00","transparent"]}},
   "stroke":{"field":"grp","type":"nominal","scale":{"domain":["Control (>=90)","Mild (60– <90)","Moderate (30– <60)","Severe (15– <30)"],"range":["#A0282A","#F25C3A","#FF9B00","#D8472B"]}},
   "size":{"field":"grp","type":"nominal","scale":{"type":"ordinal","domain":["Control (>=90)","Mild (60– <90)","Moderate (30– <60)","Severe (15– <30)"],"range":[30,75,42,80]}}
  }},
 {"data":{"name":"r2"},"transform":[{"filter":"datum.p==='b'"}],"mark":{"type":"text","font":"Liberation Sans","fontSize":15,"color":"#000000"},
  "encoding":{
   "x":{"field":"x","type":"quantitative","scale":{"domain":[18,199],"nice":false,"zero":false},"axis":{"values":[25,75,125,175],"orient":"top","labels":false,"ticks":false,"title":null,"grid":true,"gridWidth":0.7}},
   "y":{"field":"y","type":"quantitative","scale":{"type":"log","domain":[0.0733,143.9],"nice":false},"axis":{"values":[0.3162,3.162,31.62],"orient":"right","labels":false,"ticks":false,"title":null,"grid":true,"gridWidth":0.7}},
   "text":{"field":"t"}}}
 ],"resolve":{"axis":{"x":"independent","y":"independent"}}},
{"width":436,"height":225,"layer":[
 {"data":{"name":"pts"},"transform":[{"filter":"datum.p==='c'"},{"lookup":"g","from":{"data":{"name":"grp"},"key":"g","fields":["grp"]}}],
  "mark":{"type":"point","opacity":1,"strokeWidth":1,"clip":true},
  "encoding":{
   "x":{"field":"x","type":"quantitative","scale":{"domain":[18,199],"nice":false,"zero":false},"axis":{"values":[50,100,150],"format":"d","title":"Creatinine clearance (mL/min)","titlePadding":12,"grid":true}},
   "y":{"field":"y","type":"quantitative","scale":{"type":"log","domain":[0.0733,143.9],"nice":false},"axis":{"values":[0.1,1,10,100],"format":".1f","title":"NAP 226–90 (ng/mL)","titlePadding":20,"grid":true}},
   "shape":{"field":"grp","type":"nominal","scale":{"domain":["Control (>=90)","Mild (60– <90)","Moderate (30– <60)","Severe (15– <30)"],"range":["M-1,-1H1V1H-1Z M-1,-1L1,1 M1,-1L-1,1","triangle-up","square","M-1,0H1 M0,-1V1"]},"legend":{"title":null,"orient":"none","legendX":135,"legendY":530,"direction":"horizontal","columns":4,"columnPadding":14,"labelOffset":12}},
   "fill":{"field":"grp","type":"nominal","scale":{"domain":["Control (>=90)","Mild (60– <90)","Moderate (30– <60)","Severe (15– <30)"],"range":["transparent","#F25C3A","#FF9B00","transparent"]}},
   "stroke":{"field":"grp","type":"nominal","scale":{"domain":["Control (>=90)","Mild (60– <90)","Moderate (30– <60)","Severe (15– <30)"],"range":["#A0282A","#F25C3A","#FF9B00","#D8472B"]}},
   "size":{"field":"grp","type":"nominal","scale":{"type":"ordinal","domain":["Control (>=90)","Mild (60– <90)","Moderate (30– <60)","Severe (15– <30)"],"range":[30,75,42,80]}}
  }},
 {"data":{"name":"r2"},"transform":[{"filter":"datum.p==='c'"}],"mark":{"type":"text","font":"Liberation Sans","fontSize":15,"color":"#000000"},
  "encoding":{
   "x":{"field":"x","type":"quantitative","scale":{"domain":[18,199],"nice":false,"zero":false},"axis":{"values":[25,75,125,175],"orient":"top","labels":false,"ticks":false,"title":null,"grid":true,"gridWidth":0.7}},
   "y":{"field":"y","type":"quantitative","scale":{"type":"log","domain":[0.0733,143.9],"nice":false},"axis":{"values":[0.3162,3.162,31.62],"orient":"right","labels":false,"ticks":false,"title":null,"grid":true,"gridWidth":0.7}},
   "text":{"field":"t"}}}
 ],"resolve":{"axis":{"x":"independent","y":"independent"}}},
{"width":435,"height":225,"layer":[
 {"data":{"name":"pts"},"transform":[{"filter":"datum.p==='d'"},{"lookup":"g","from":{"data":{"name":"grp"},"key":"g","fields":["grp"]}}],
  "mark":{"type":"point","opacity":1,"strokeWidth":1,"clip":true},
  "encoding":{
   "x":{"field":"x","type":"quantitative","scale":{"domain":[18,199],"nice":false,"zero":false},"axis":{"values":[50,100,150],"format":"d","title":"Estimated glomerular filtration rate (mL/min/1.73 m²)","titlePadding":12,"grid":true}},
   "y":{"field":"y","type":"quantitative","scale":{"type":"log","domain":[0.0733,143.9],"nice":false},"axis":{"values":[0.1,1,10,100],"labels":false,"ticks":false,"title":null,"grid":true}},
   "shape":{"field":"grp","type":"nominal","scale":{"domain":["Control (>=90)","Mild (60– <90)","Moderate (30– <60)","Severe (15– <30)"],"range":["M-1,-1H1V1H-1Z M-1,-1L1,1 M1,-1L-1,1","triangle-up","square","M-1,0H1 M0,-1V1"]},"legend":{"title":null,"orient":"none","legendX":135,"legendY":530,"direction":"horizontal","columns":4,"columnPadding":14,"labelOffset":12}},
   "fill":{"field":"grp","type":"nominal","scale":{"domain":["Control (>=90)","Mild (60– <90)","Moderate (30– <60)","Severe (15– <30)"],"range":["transparent","#F25C3A","#FF9B00","transparent"]}},
   "stroke":{"field":"grp","type":"nominal","scale":{"domain":["Control (>=90)","Mild (60– <90)","Moderate (30– <60)","Severe (15– <30)"],"range":["#A0282A","#F25C3A","#FF9B00","#D8472B"]}},
   "size":{"field":"grp","type":"nominal","scale":{"type":"ordinal","domain":["Control (>=90)","Mild (60– <90)","Moderate (30– <60)","Severe (15– <30)"],"range":[30,75,42,80]}}
  }},
 {"data":{"name":"r2"},"transform":[{"filter":"datum.p==='d'"}],"mark":{"type":"text","font":"Liberation Sans","fontSize":15,"color":"#000000"},
  "encoding":{
   "x":{"field":"x","type":"quantitative","scale":{"domain":[18,199],"nice":false,"zero":false},"axis":{"values":[25,75,125,175],"orient":"top","labels":false,"ticks":false,"title":null,"grid":true,"gridWidth":0.7}},
   "y":{"field":"y","type":"quantitative","scale":{"type":"log","domain":[0.0733,143.9],"nice":false},"axis":{"values":[0.3162,3.162,31.62],"orient":"right","labels":false,"ticks":false,"title":null,"grid":true,"gridWidth":0.7}},
   "text":{"field":"t"}}}
 ],"resolve":{"axis":{"x":"independent","y":"independent"}}}
],
"columns":2,
"spacing":{"row":10,"column":9},
"config":{
 "view":{"stroke":null,"fill":"#EBEBEB"},
 "axis":{"domain":false,"gridColor":"#FFFFFF","gridWidth":1.4,"gridOpacity":1,"tickColor":"#333333","tickSize":4,"tickWidth":1.1,"labelColor":"#4D4D4D","labelFont":"Liberation Sans","labelFontSize":15,"labelPadding":2,"titleFont":"Liberation Sans","titleFontSize":15,"titleFontWeight":"normal","titleColor":"#000000"},
 "legend":{"labelFont":"Liberation Sans","labelFontSize":14.5,"labelColor":"#000000","symbolStrokeWidth":1,"symbolOpacity":1}
}
}
